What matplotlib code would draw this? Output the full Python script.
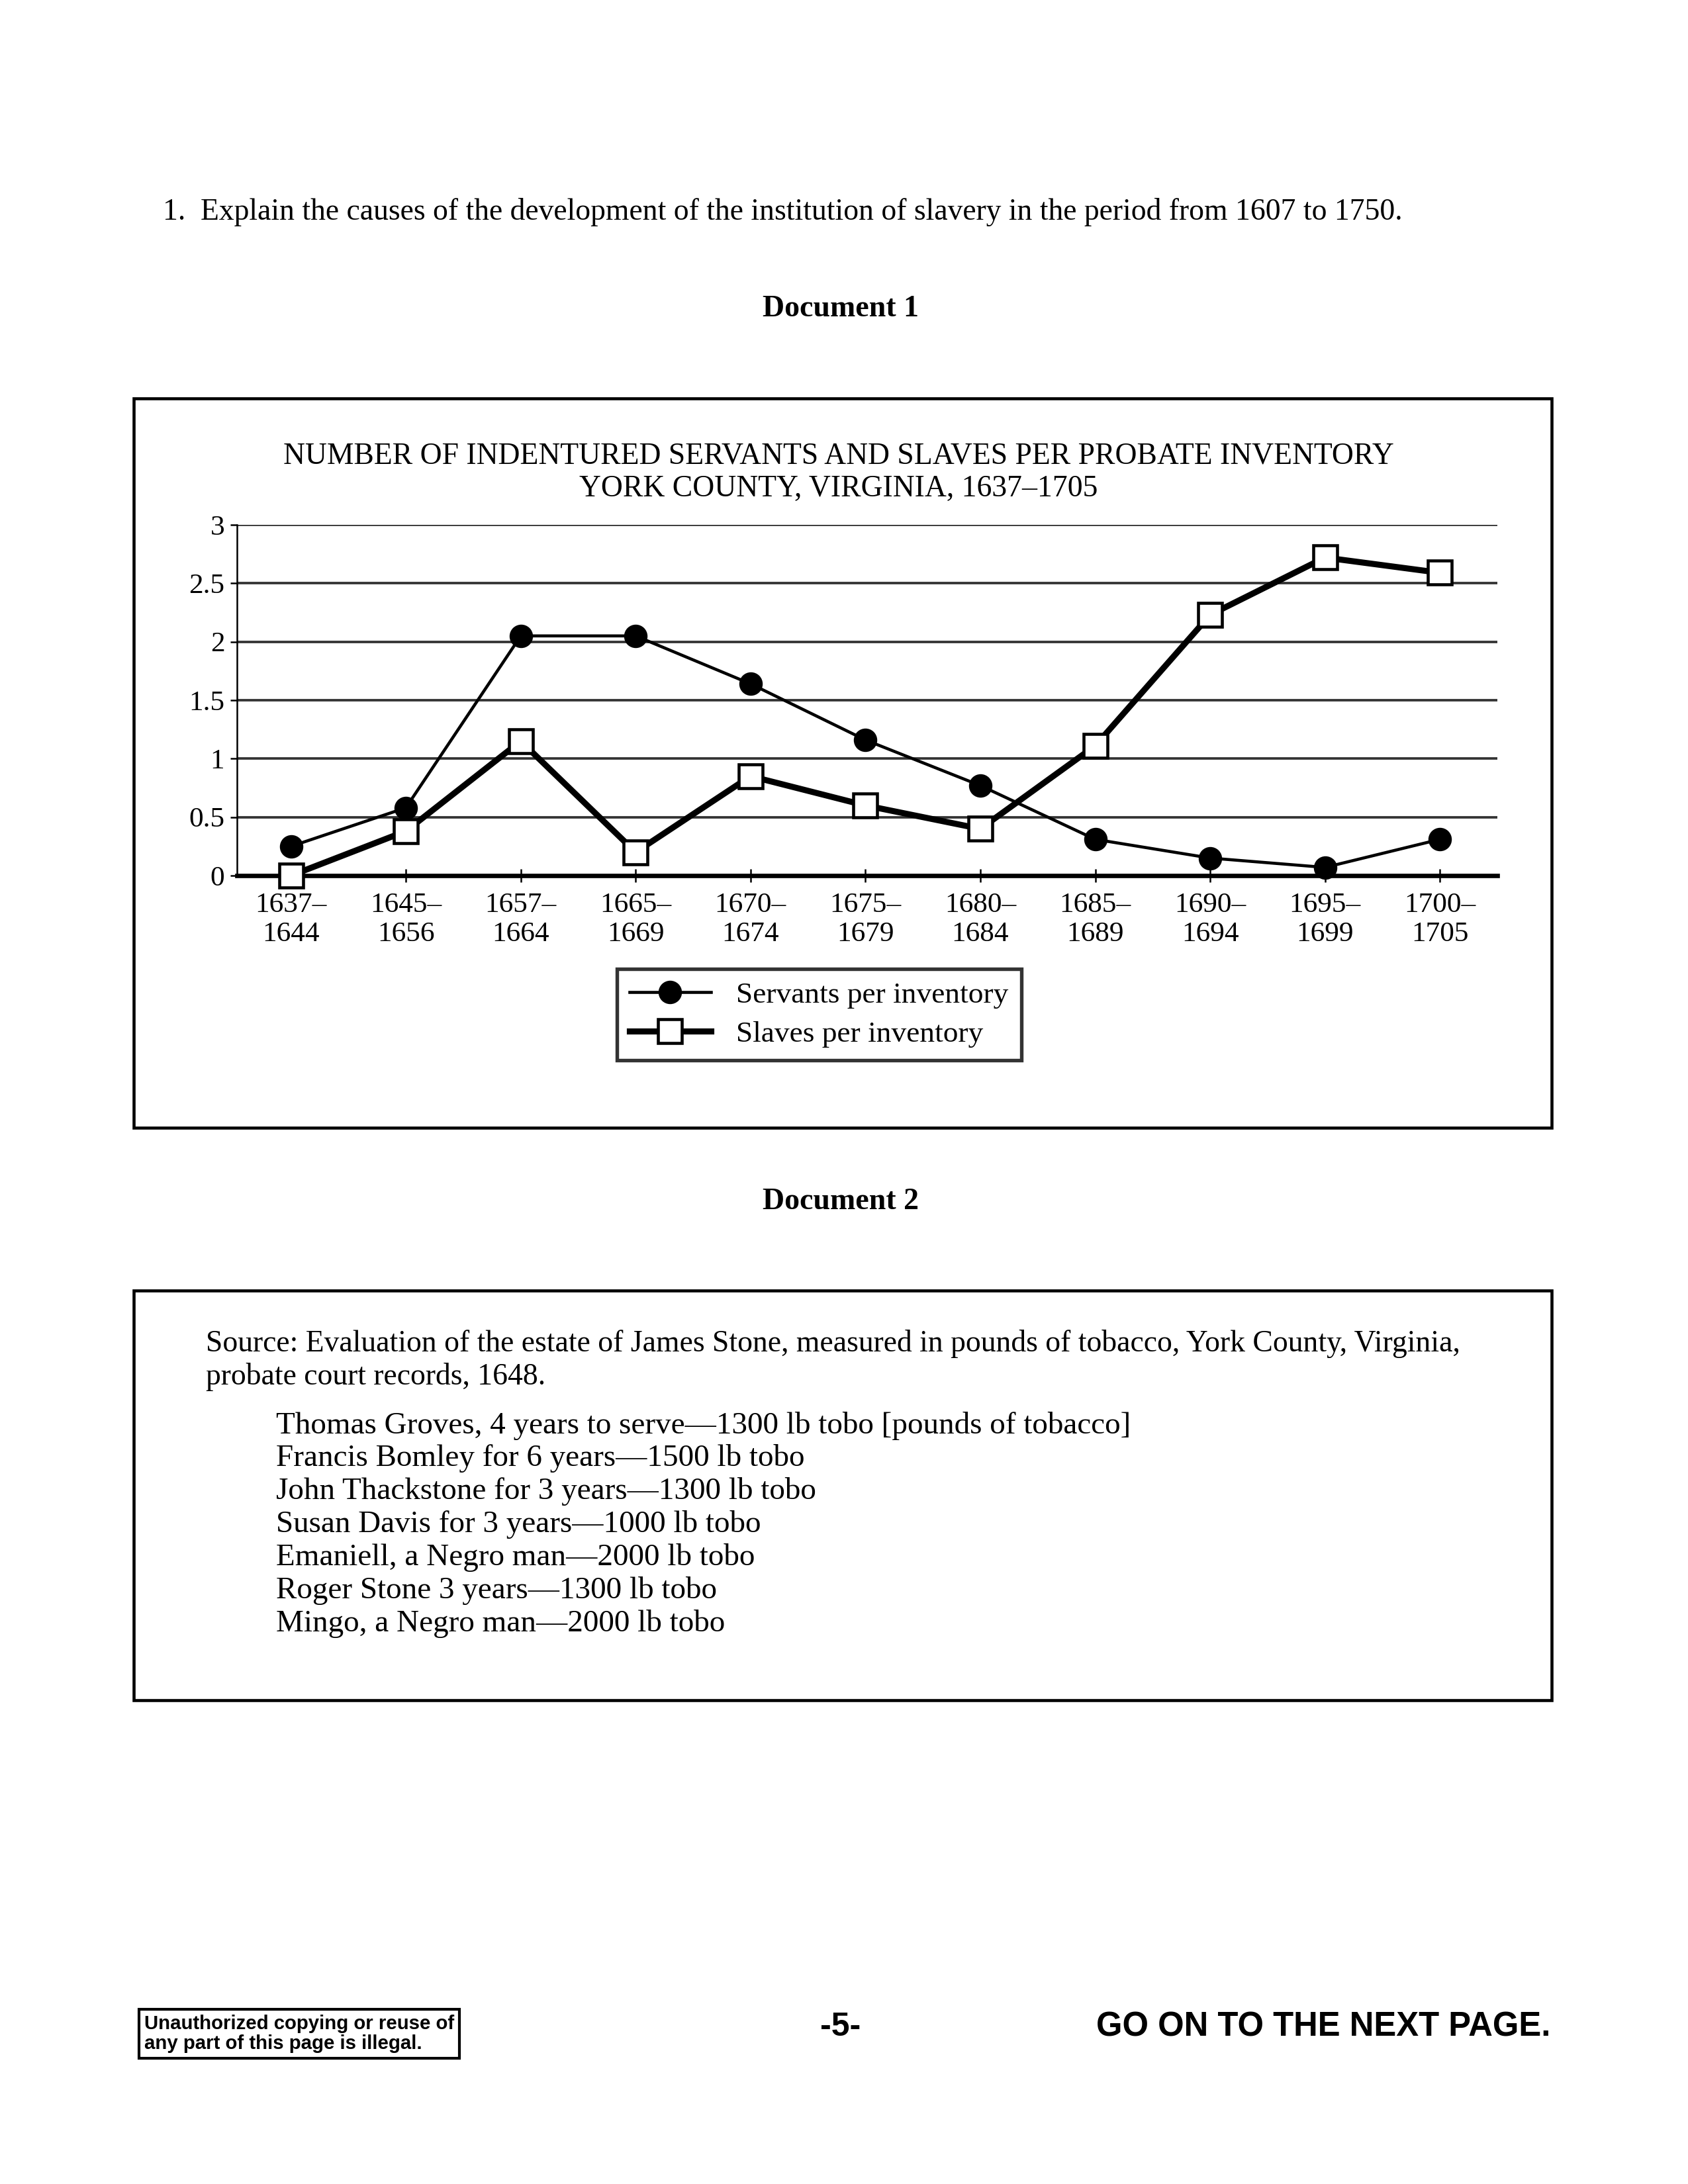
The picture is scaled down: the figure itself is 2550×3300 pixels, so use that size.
import matplotlib
matplotlib.use("Agg")
import matplotlib.pyplot as plt
from matplotlib.patches import Rectangle
from matplotlib.lines import Line2D

# ---------------- data ----------------
periods = ["1637–\n1644", "1645–\n1656", "1657–\n1664", "1665–\n1669", "1670–\n1674",
           "1675–\n1679", "1680–\n1684", "1685–\n1689", "1690–\n1694", "1695–\n1699",
           "1700–\n1705"]
servants = [0.25, 0.58, 2.05, 2.05, 1.64, 1.16, 0.77, 0.31, 0.15, 0.07, 0.31]
slaves = [0.0, 0.38, 1.15, 0.20, 0.85, 0.60, 0.40, 1.11, 2.23, 2.72, 2.59]
y_ticks = [0, 0.5, 1, 1.5, 2, 2.5, 3]
y_tick_labels = ["0", "0.5", "1", "1.5", "2", "2.5", "3"]

question = "1.  Explain the causes of the development of the institution of slavery in the period from 1607 to 1750."
chart_title = "NUMBER OF INDENTURED SERVANTS AND SLAVES PER PROBATE INVENTORY\nYORK COUNTY, VIRGINIA, 1637–1705"
source_lines = ["Source: Evaluation of the estate of James Stone, measured in pounds of tobacco, York County, Virginia,",
                "probate court records, 1648."]
estate_items = ["Thomas Groves, 4 years to serve—1300 lb tobo [pounds of tobacco]",
                "Francis Bomley for 6 years—1500 lb tobo",
                "John Thackstone for 3 years—1300 lb tobo",
                "Susan Davis for 3 years—1000 lb tobo",
                "Emaniell, a Negro man—2000 lb tobo",
                "Roger Stone 3 years—1300 lb tobo",
                "Mingo, a Negro man—2000 lb tobo"]

# ---------------- page ----------------
W, H = 2550, 3300
plt.rcParams['font.family'] = ['Liberation Serif', 'DejaVu Serif']
fig = plt.figure(figsize=(W / 300, H / 300), dpi=300)
fig.patch.set_facecolor('white')

def fx(x):
    return x / W

def fy(y):
    return 1 - y / H

def ftext(x, y, s, **kw):
    fig.text(fx(x), fy(y), s, **kw)

def fbox(x0, y0, x1, y1, lw=1.0):
    fig.patches.append(Rectangle((fx(x0), fy(y1)), fx(x1) - fx(x0), fy(y0) - fy(y1),
                                 transform=fig.transFigure, fill=False,
                                 edgecolor='black', linewidth=lw, zorder=0))

serif = 'Liberation Serif'
sans = 'Liberation Sans'

ftext(246, 320, question, fontsize=10.95, family=serif, va='center', ha='left')
ftext(1270, 467, "Document 1", fontsize=11, family=serif, weight='bold', va='center', ha='center')

fbox(202, 602, 2344, 1704, lw=1.1)

ftext(1267, 714, chart_title, fontsize=10.95, family=serif, va='center', ha='center', linespacing=1.2)

# ---------------- chart ----------------
ax_l, ax_r, ax_t, ax_b = 358, 2262, 793, 1323
ax = fig.add_axes([fx(ax_l), fy(ax_b), fx(ax_r) - fx(ax_l), fy(ax_t) - fy(ax_b)])
x = list(range(len(periods)))
ax.set_xlim(-0.47, 10.5)
ax.set_ylim(0, 3)
for v in y_ticks[1:]:
    ax.axhline(v, color='0.2', lw=0.9, zorder=1)
ax.plot(x, slaves, color='black', lw=2.2, marker='s', markersize=8.5,
        markerfacecolor='white', markeredgecolor='black', markeredgewidth=1.1,
        zorder=3, clip_on=False, label="Slaves per inventory")
ax.plot(x, servants, color='black', lw=1.1, marker='o', markersize=7.5,
        markerfacecolor='black', markeredgecolor='black',
        zorder=4, clip_on=False, label="Servants per inventory")
ax.set_xticks(x)
ax.set_xticklabels(periods, fontsize=10.4, family=serif, linespacing=1.2)
ax.set_yticks(y_ticks)
ax.set_yticklabels(y_tick_labels, fontsize=10.4, family=serif)
ax.tick_params(axis='x', direction='inout', length=5, width=0.6, pad=3.5)
ax.tick_params(axis='y', direction='out', length=2.5, width=0.6, pad=2)
for s in ['top', 'right']:
    ax.spines[s].set_visible(False)
ax.spines['left'].set_linewidth(0.6)
ax.spines['bottom'].set_linewidth(1.6)
ax.set_facecolor('none')

# legend (servants first)
handles = [Line2D([], [], color='black', lw=1.1, marker='o', markersize=7.5,
                  markerfacecolor='black'),
           Line2D([], [], color='black', lw=2.2, marker='s', markersize=8.5,
                  markerfacecolor='white', markeredgewidth=1.1)]
leg = fig.legend(handles, ["Servants per inventory", "Slaves per inventory"],
                 loc='upper left', bbox_to_anchor=(fx(932), fy(1464)),
                 bbox_transform=fig.transFigure, frameon=True, fancybox=False,
                 edgecolor='black', prop={'family': serif, 'size': 10.9},
                 handlelength=2.7, handletextpad=0.85, borderpad=0.42,
                 labelspacing=0.4, borderaxespad=0)
leg.get_frame().set_linewidth(1.3)

# ---------------- document 2 ----------------
ftext(1270, 1816, "Document 2", fontsize=11, family=serif, weight='bold', va='center', ha='center')
fbox(202, 1950, 2344, 2569, lw=1.1)
for i, s in enumerate(source_lines):
    ftext(311, 2030 + i * 51, s, fontsize=10.95, family=serif, va='center', ha='left')
for i, s in enumerate(estate_items):
    ftext(417, 2154 + i * 49.9, s, fontsize=11.3, family=serif, va='center', ha='left')

# ---------------- footer ----------------
fbox(210, 3036, 694, 3110, lw=1.0)
ftext(218, 3073, "Unauthorized copying or reuse of\nany part of this page is illegal.",
      fontsize=7.05, family=sans, weight='bold', va='center', ha='left', linespacing=1.05)
ftext(1270, 3063, "-5-", fontsize=12, family=sans, weight='bold', va='center', ha='center')
ftext(2342, 3063, "GO ON TO THE NEXT PAGE.", fontsize=12.2, family=sans, weight='bold',
      va='center', ha='right')

fig.savefig("out.png", dpi=300, facecolor='white')
